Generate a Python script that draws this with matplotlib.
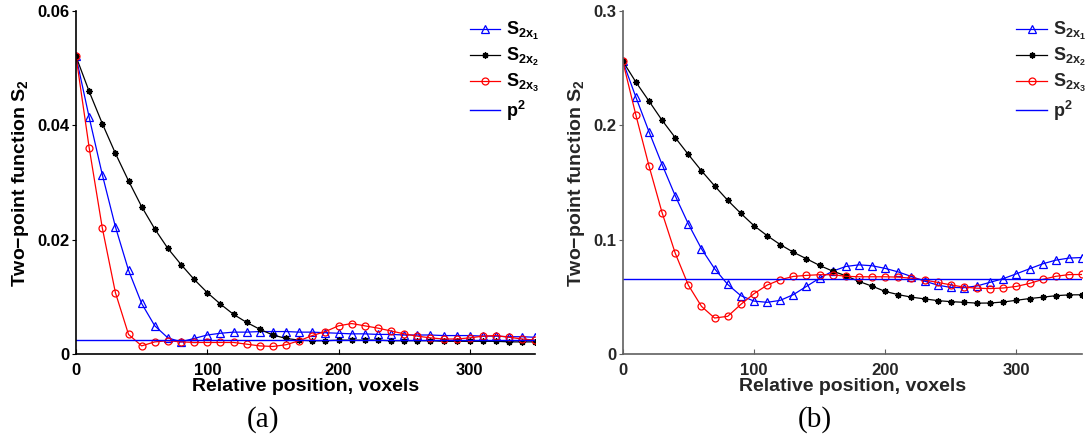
import matplotlib
matplotlib.use('Agg')
import matplotlib.pyplot as plt

plt.rcParams['font.family'] = ['Liberation Sans', 'DejaVu Sans']
plt.rcParams['font.weight'] = 'bold'
plt.rcParams['mathtext.default'] = 'regular'

# lag positions (voxels)
lags = [0, 10, 20, 30, 40, 50, 60, 70, 80, 90,
        100, 110, 120, 130, 140, 150, 160, 170, 180, 190,
        200, 210, 220, 230, 240, 250, 260, 270, 280, 290,
        300, 310, 320, 330, 340, 350]

# panel (a)
a_s2x1 = [0.0520, 0.0414, 0.0314, 0.0223, 0.0147, 0.0089, 0.0050, 0.0029, 0.0022, 0.0028,
          0.0034, 0.0037, 0.0039, 0.0039, 0.0040, 0.0040, 0.0040, 0.0039, 0.0039, 0.0038,
          0.0037, 0.0036, 0.0036, 0.0035, 0.0035, 0.0034, 0.0034, 0.0034, 0.0033, 0.0033,
          0.0033, 0.0032, 0.0032, 0.0031, 0.0031, 0.0030]
a_s2x2 = [0.0520, 0.0459, 0.0403, 0.0351, 0.0303, 0.0258, 0.0219, 0.0185, 0.0157, 0.0131,
          0.0108, 0.0088, 0.0070, 0.0056, 0.0044, 0.0034, 0.0028, 0.0025, 0.0024, 0.0024,
          0.0025, 0.0025, 0.0025, 0.0025, 0.0024, 0.0024, 0.0024, 0.0024, 0.0023, 0.0023,
          0.0023, 0.0023, 0.0023, 0.0022, 0.0022, 0.0022]
a_s2x3 = [0.0520, 0.0361, 0.0221, 0.0108, 0.0035, 0.0015, 0.0022, 0.0024, 0.0022, 0.0021,
          0.0021, 0.0021, 0.0021, 0.0018, 0.0015, 0.0014, 0.0017, 0.0024, 0.0033, 0.0040,
          0.0050, 0.0054, 0.0050, 0.0046, 0.0041, 0.0036, 0.0032, 0.0029, 0.0027, 0.0027,
          0.0029, 0.0032, 0.0033, 0.0030, 0.0027, 0.0025]
a_p2 = 0.0026
a_yticks = [0, 0.02, 0.04, 0.06]
a_yticklabels = ['0', '0.02', '0.04', '0.06']

# panel (b)
b_s2x1 = [0.256, 0.2246, 0.1944, 0.1657, 0.1385, 0.1139, 0.0922, 0.0748, 0.0611, 0.0513,
          0.0466, 0.0455, 0.0472, 0.0522, 0.0594, 0.0666, 0.0727, 0.0768, 0.0782, 0.0774,
          0.0751, 0.0720, 0.0680, 0.0640, 0.0605, 0.0585, 0.0583, 0.0598, 0.0630, 0.0662,
          0.0704, 0.0748, 0.0791, 0.0823, 0.0841, 0.0846]
b_s2x2 = [0.256, 0.2377, 0.2211, 0.2043, 0.1892, 0.1745, 0.1603, 0.1471, 0.1345, 0.1231,
          0.1124, 0.1037, 0.0959, 0.0892, 0.0835, 0.0777, 0.0727, 0.0687, 0.0637, 0.0596,
          0.0550, 0.0522, 0.0500, 0.0485, 0.0470, 0.0461, 0.0455, 0.0448, 0.0449, 0.0458,
          0.0473, 0.0488, 0.0500, 0.0513, 0.0520, 0.0521]
b_s2x3 = [0.256, 0.2090, 0.1646, 0.1237, 0.0884, 0.0605, 0.0420, 0.0318, 0.0333, 0.0437,
          0.0530, 0.0605, 0.0652, 0.0681, 0.0690, 0.0696, 0.0696, 0.0682, 0.0678, 0.0678,
          0.0678, 0.0675, 0.0665, 0.0649, 0.0629, 0.0607, 0.0588, 0.0578, 0.0575, 0.0580,
          0.0594, 0.0620, 0.0655, 0.0682, 0.0697, 0.0698]
b_p2 = 0.0655
b_yticks = [0, 0.1, 0.2, 0.3]
b_yticklabels = ['0', '0.1', '0.2', '0.3']

xticks = [0, 100, 200, 300]
labels = [r'S$_{2x_1}$', r'S$_{2x_2}$', r'S$_{2x_3}$', r'p$^2$']

fig = plt.figure(figsize=(10.86, 4.42), dpi=100)
ax_a = fig.add_axes([0.070, 0.198, 0.423, 0.778])
ax_b = fig.add_axes([0.5734, 0.198, 0.423, 0.778])


def draw_panel(ax, s1, s2, s3, p2, yticks, yticklabels, ymax, axcol, txtcol, tag, tag_x):
    ax.plot(lags, s1, color='#0000ff', lw=0.9, marker='^', ms=5.5,
            mfc='none', mec='#0000ff', mew=0.9, label=labels[0])
    # matlab style asterisk marker
    ax.plot(lags, s2, color='black', lw=0.9, marker=(8, 2, 0), ms=4.5,
            mec='black', mew=1.0, label=labels[1])
    ax.plot(lags, s3, color='#ff0000', lw=0.9, marker='o', ms=5,
            mfc='none', mec='#ff0000', mew=0.9, label=labels[2])
    ax.axhline(p2, color='#0000ff', lw=1.0, label=labels[3])

    ax.set_xlim(0, 350)
    ax.set_ylim(0, ymax)
    ax.set_xticks(xticks)
    ax.set_yticks(yticks)
    ax.set_yticklabels(yticklabels)
    for side in ['top', 'right']:
        ax.spines[side].set_visible(False)
    for side in ['left', 'bottom']:
        ax.spines[side].set_color(axcol)
        ax.spines[side].set_linewidth(1.2)
    ax.tick_params(axis='x', direction='in', length=3.5, width=0.8, color=axcol,
                   labelsize=12, labelcolor=txtcol, pad=6)
    ax.tick_params(axis='y', direction='out', length=3, width=0.8, color=axcol,
                   labelsize=12, labelcolor=txtcol, pad=1.5)
    for t in ax.get_xticklabels() + ax.get_yticklabels():
        t.set_fontweight('bold')

    ax.set_xlabel('Relative position, voxels', fontsize=14, fontweight='bold',
                  color=txtcol, labelpad=0)
    ax.set_ylabel('Two\u2212point function S$_2$', fontsize=14, fontweight='bold',
                  color=txtcol, labelpad=5)

    leg = ax.legend(loc='upper left', bbox_to_anchor=(0.857, 0.972), frameon=False,
                    fontsize=13, handlelength=1.7, handletextpad=0.3,
                    labelspacing=0.22, borderaxespad=0, borderpad=0, numpoints=1)
    for t in leg.get_texts():
        t.set_fontweight('bold')
        t.set_color(txtcol)

    fig.text(tag_x, 0.05, tag, family='Liberation Serif', fontsize=21,
             fontweight='normal', ha='center', va='center', color='black')


draw_panel(ax_a, a_s2x1, a_s2x2, a_s2x3, a_p2, a_yticks, a_yticklabels, 0.06,
           'black', 'black', '(a)', 263 / 1086)
draw_panel(ax_b, b_s2x1, b_s2x2, b_s2x3, b_p2, b_yticks, b_yticklabels, 0.3,
           '#606060', '#262626', '(b)', 815 / 1086)

fig.savefig('out.png', dpi=100)
